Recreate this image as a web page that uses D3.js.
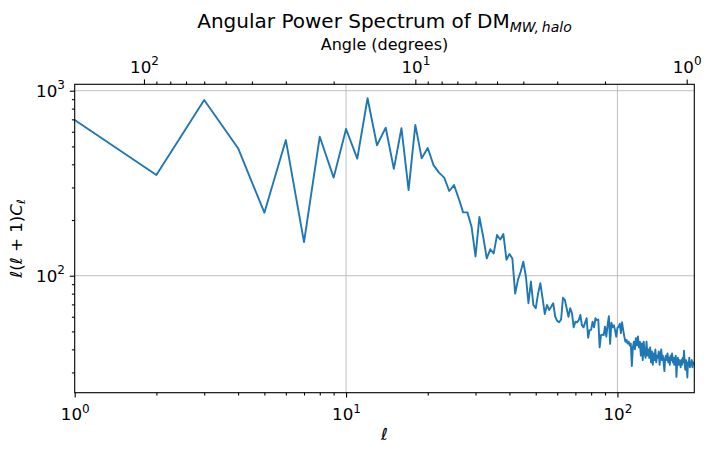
<!DOCTYPE html>
<html lang="en">
<head>
    <meta charset="utf-8">
    <script src="https://d3js.org/d3.v7.min.js"></script>
    <title>Angular Power Spectrum</title>
    <style>
        body { margin: 0; background: white; }
        text { font-family: "DejaVu Sans", sans-serif; fill: black; }
        .grid line { stroke: #b0b0b0; stroke-width: 0.8; }
        .axis path { stroke: black; stroke-width: 1.1; }
        .axis line { stroke: black; stroke-width: 1.1; }
    </style>
</head>
<body>
    <svg id="chart" width="711" height="453"></svg>
    <script>
        // multipole values l = 1..191
        const ells = d3.range(1, 192);
        const power = [
            695, 350, 890, 489, 219, 541, 152, 564, 339, 621,
            429, 910, 507, 631, 378, 627, 290, 653, 431, 490,
            396, 361, 339, 287, 309, 262, 220, 220, 184, 127,
            208, 163, 124, 139, 132, 166, 157, 168, 122, 131,
            124, 80, 95, 105, 119, 99, 71, 93, 69.5, 66.7,
            80, 91, 75.5, 62, 69.5, 65.3, 68, 71, 60, 57,
            56, 58, 76, 74, 66.7, 60, 66.7, 62.7, 52.6, 56.4,
            56, 57.5, 61.4, 54, 52.6, 55.8, 58.9, 46.2, 50.8, 51,
            56.4, 52.6, 58.9, 57.5, 58, 41, 47.7, 48, 47.7, 53,
            46.8, 54, 60.5, 42.8, 55.8, 52.6, 54, 50.8, 46.8, 52.2,
            53, 55, 49, 56, 51, 47, 44, 45, 43, 44,
            42, 43, 32.5, 41, 44, 40, 46, 42, 47, 41,
            44, 37, 43, 35, 44, 38, 36, 44, 37, 40,
            36, 41, 34, 39, 33, 38, 35, 40, 34, 37,
            36, 39, 33, 37, 40, 35, 37, 34, 30.5, 36,
            37, 35, 38, 34, 36, 33, 37, 35, 38, 34,
            36, 33, 35, 37, 28.4, 34, 36, 33, 35, 34,
            32, 35, 33, 36, 34, 39.3, 33, 31, 35, 33,
            28.2, 34, 33, 36, 32, 34, 33, 35, 32, 34, 33
        ];
        const xMajor = [1, 10, 100];
        const yMajor = [100, 1000];
        const angleMajor = [100, 10, 1];

        const width = 711, height = 453;
        const mLeft = 74.7, mRight = 694.3, mTop = 84.3, mBottom = 392.7;

        const svg = d3.select("#chart");

        const x = d3.scaleLog().domain([1, 192]).range([mLeft, mRight]);
        const xTop = d3.scaleLog().domain([180, 180 / 192]).range([mLeft, mRight]);
        const y = d3.scaleLog().domain([23.32, 1082.9]).range([mBottom, mTop]);

        function minorTicks(scale) {
            const [a, b] = d3.extent(scale.domain());
            const out = [];
            for (let e = -1; e <= 4; e++) {
                for (let m = 2; m <= 9; m++) {
                    const v = m * Math.pow(10, e);
                    if (v >= a && v <= b) out.push(v);
                }
            }
            return out;
        }

        // grid
        svg.append("g").attr("class", "grid")
            .selectAll("line").data(xMajor.filter(d => d > 1)).enter().append("line")
            .attr("x1", d => x(d)).attr("x2", d => x(d))
            .attr("y1", mTop).attr("y2", mBottom);
        svg.append("g").attr("class", "grid")
            .selectAll("line").data(yMajor).enter().append("line")
            .attr("x1", mLeft).attr("x2", mRight)
            .attr("y1", d => y(d)).attr("y2", d => y(d));

        // line
        const line = d3.line().x(d => x(d[0])).y(d => y(d[1]));
        svg.append("path")
            .datum(ells.map((l, i) => [l, power[i]]))
            .attr("d", line)
            .attr("fill", "none")
            .attr("stroke", "#1f77b4")
            .attr("stroke-width", 1.9)
            .attr("stroke-linejoin", "round");

        // superscript labels
        function powLabel(sel, exp) {
            sel.text(null);
            sel.append("tspan").text("10");
            sel.append("tspan").attr("font-size", "12px").attr("dy", "-7.5").text(exp);
        }

        function drawAxis(axisFn, scale, majors, transform, labelSetup) {
            const gMinor = svg.append("g").attr("class", "axis").attr("transform", transform)
                .call(axisFn(scale).tickValues(minorTicks(scale)).tickSize(2.8).tickFormat(""));
            gMinor.select(".domain").remove();
            const g = svg.append("g").attr("class", "axis").attr("transform", transform)
                .call(axisFn(scale).tickValues(majors).tickSize(4.9).tickPadding(4.9).tickFormat(""));
            g.select(".domain").remove();
            g.selectAll(".tick text").each(function (d) {
                const t = d3.select(this).attr("font-size", "16.7px").attr("font-family", "DejaVu Sans");
                powLabel(t, String(Math.round(Math.log10(d))));
                labelSetup(t);
            });
        }

        drawAxis(d3.axisBottom, x, xMajor, `translate(0,${mBottom})`, t => t.attr("dy", "1.05em"));
        drawAxis(d3.axisTop, xTop, angleMajor, `translate(0,${mTop})`, t => t.attr("dy", "-0.1em"));
        drawAxis(d3.axisLeft, y, yMajor, `translate(${mLeft},0)`, t => t.attr("dy", "0.32em"));

        // spines
        svg.append("rect")
            .attr("x", mLeft).attr("y", mTop)
            .attr("width", mRight - mLeft).attr("height", mBottom - mTop)
            .attr("fill", "none").attr("stroke", "black").attr("stroke-width", 1.1);

        // title
        const title = svg.append("text")
            .attr("x", (mLeft + mRight) / 2).attr("y", 28)
            .attr("text-anchor", "middle").attr("font-size", "20px");
        title.append("tspan").text("Angular Power Spectrum of DM");
        title.append("tspan").attr("font-size", "14px").attr("font-style", "italic")
            .attr("dy", "4").text("MW,\u2009halo");

        svg.append("text")
            .attr("x", (mLeft + mRight) / 2).attr("y", 50)
            .attr("text-anchor", "middle").attr("font-size", "16px")
            .text("Angle (degrees)");

        svg.append("text")
            .attr("x", (mLeft + mRight) / 2).attr("y", 440)
            .attr("text-anchor", "middle").attr("font-size", "16.7px")
            .attr("font-style", "italic")
            .text("ℓ");

        const yl = svg.append("text")
            .attr("transform", `translate(22,${(mTop + mBottom) / 2}) rotate(-90)`)
            .attr("text-anchor", "middle").attr("font-size", "16.7px");
        yl.append("tspan").attr("font-style", "italic").text("ℓ");
        yl.append("tspan").text("(");
        yl.append("tspan").attr("font-style", "italic").text("ℓ");
        yl.append("tspan").text(" + 1)");
        yl.append("tspan").attr("font-style", "italic").text("C");
        yl.append("tspan").attr("font-style", "italic").attr("font-size", "11.5px").attr("dy", "3").text("ℓ");
    </script>
</body>
</html>
